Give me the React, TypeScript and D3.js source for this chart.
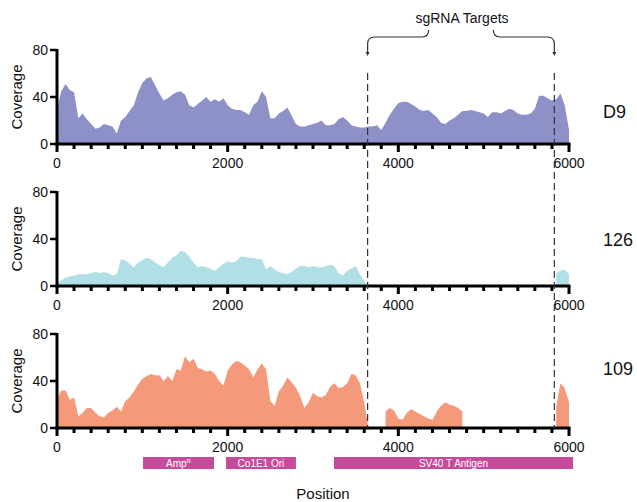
import React from "react";
import * as d3 from "d3";

// coverage sampled every 50 bp, 0..6000 (null = no reads)
const positions = d3.range(0, 6001, 50);

const coverageD9 = [
  30, 45, 51, 46, 44, 22, 26, 21, 17, 13, 14, 17, 16, 15, 9, 20, 23, 28, 33, 44,
  52, 56, 57, 50, 43, 37, 39, 42, 44, 45, 42, 33, 31, 34, 37, 40, 36, 38, 36, 39,
  33, 30, 29, 29, 27, 25, 33, 36, 45, 40, 22, 22, 26, 28, 31, 24, 17, 15, 15, 16,
  17, 18, 20, 16, 16, 17, 21, 23, 20, 16, 15, 14, 14, 15, 15, 16, 12, 18, 25, 30,
  35, 36, 36, 34, 32, 29, 28, 29, 26, 23, 18, 17, 20, 22, 25, 28, 28, 29, 28, 27,
  26, 23, 27, 27, 26, 28, 30, 29, 26, 25, 25, 26, 30, 41, 41, 39, 37, 38, 43, 33,
  12,
];

const coverage126 = [
  2, 5, 7, 8, 9, 10, 10, 10, 11, 12, 11, 12, 11, 9, 10, 23, 22, 19, 16, 20,
  22, 24, 23, 20, 18, 16, 20, 24, 26, 30, 29, 25, 20, 16, 17, 16, 15, 13, 16, 19,
  21, 20, 21, 25, 25, 24, 24, 23, 23, 14, 17, 14, 12, 11, 10, 12, 15, 17, 17, 16,
  17, 16, 16, 17, 18, 17, 11, 9, 13, 15, 17, 10, 4, 0, null, null, null, null, null, null,
  null, null, null, null, null, null, null, null, null, null, null, null, null, null, null, null, null, null, null, null,
  null, null, null, null, null, null, null, null, null, null, null, null, null, null, null, null, null, 11, 13, 14,
  10,
];

const coverage109 = [
  25, 32, 32, 24, 26, 10, 13, 17, 17, 13, 10, 9, 13, 15, 18, 14, 23, 26, 31, 37,
  42, 44, 46, 45, 45, 40, 44, 40, 50, 49, 61, 56, 59, 51, 50, 48, 49, 46, 40, 36,
  49, 54, 57, 56, 53, 50, 43, 50, 55, 50, 23, 19, 31, 36, 43, 39, 34, 27, 17, 22,
  30, 27, 26, 28, 35, 38, 34, 35, 38, 46, 45, 38, 22, 0, null, null, null, 14, 17, 15,
  8, 7, 13, 16, 14, 12, 10, 8, 7, 14, 19, 22, 20, 19, 17, 14, null, null, null, null,
  null, null, null, null, null, null, null, null, null, null, null, null, null, null, null, null, null, 18, 38, 34,
  22,
];

const sampleNames = ["D9", "126", "109"];
const sampleColors = ["#8e90c8", "#b1dfe6", "#f5997b"];
const sampleSeries = [coverageD9, coverage126, coverage109];

const yTicks = [0, 40, 80];
const xMajorTicks = [0, 2000, 4000, 6000];
const xMinorTicks = d3.range(0, 6001, 200);

const sgRNATargets = [3640, 5828];

const featureNames = ["Amp", "Co1E1 Ori", "SV40 T Antigen"];
const featureStarts = [1008, 1980, 3246];
const featureEnds = [1840, 2800, 6047];

const FONT = "Arial, 'Liberation Sans', Helvetica, sans-serif";

// layout
const panelBase = [144, 286, 428];
const panelH = 94;
const nameY = [118, 246, 375];

export default function App() {
  const x = d3.scaleLinear().domain([0, 6000]).range([57, 569]);

  const panels = sampleSeries.map((series, i) => {
    const y0 = panelBase[i];
    const y = d3.scaleLinear().domain([0, 80]).range([y0, y0 - panelH]);
    const pts = positions.map((p, k) => ({ p, v: series[k] }));
    const area = d3
      .area<{ p: number; v: number | null }>()
      .defined((d) => d.v != null)
      .x((d) => x(d.p))
      .y0(y(0))
      .y1((d) => y(d.v as number));
    return (
      <g key={sampleNames[i]}>
        <path d={area(pts) || ""} fill={sampleColors[i]} />
        {/* y axis */}
        <line x1={x(0)} x2={x(0)} y1={y(80) - 1} y2={y(0) + 1.5} stroke="#000" strokeWidth={3} />
        {yTicks.map((t) => (
          <g key={t}>
            <line x1={x(0) - 7} x2={x(0)} y1={y(t)} y2={y(t)} stroke="#000" strokeWidth={2.5} />
            <text x={x(0) - 9} y={y(t)} dy="0.35em" textAnchor="end" fontSize={14} fontFamily={FONT} fill="#111">
              {t}
            </text>
          </g>
        ))}
        <text
          transform={`translate(22, ${y0 - panelH / 2}) rotate(-90)`}
          textAnchor="middle"
          fontSize={15}
          fontFamily={FONT}
          fill="#111"
        >
          Coverage
        </text>
        {/* x axis */}
        <line x1={x(0) - 1.5} x2={x(6000) + 1.5} y1={y(0)} y2={y(0)} stroke="#000" strokeWidth={3} />
        {xMinorTicks.map((t) => (
          <line
            key={t}
            x1={x(t)}
            x2={x(t)}
            y1={y(0)}
            y2={y(0) + (xMajorTicks.includes(t) ? 8 : 5)}
            stroke="#000"
            strokeWidth={3}
          />
        ))}
        {xMajorTicks.map((t) => (
          <text key={t} x={x(t)} y={y0 + 24} textAnchor="middle" fontSize={14} fontFamily={FONT} fill="#111">
            {t}
          </text>
        ))}
        <text x={603} y={nameY[i]} fontSize={18} fontFamily={FONT} fill="#111">
          {sampleNames[i]}
        </text>
      </g>
    );
  });

  const lx = x(sgRNATargets[0]);
  const rx = x(sgRNATargets[1]);

  return (
    <svg width={637} height={502} style={{ position: "absolute", left: 0, top: 0, background: "#fff" }}>
      {panels}
      {/* sgRNA target markers */}
      {sgRNATargets.map((t) => (
        <line key={t} x1={x(t)} x2={x(t)} y1={73} y2={428} stroke="#333" strokeWidth={1.2} strokeDasharray="7,4" />
      ))}
      <path
        d={`M${lx},53 L${lx},44 Q${lx},37 ${lx + 7},37 L${lx + 54},37 Q${lx + 61},37 ${lx + 61},30`}
        fill="none"
        stroke="#333"
        strokeWidth={1.2}
      />
      <path
        d={`M${rx},53 L${rx},44 Q${rx},37 ${rx - 7},37 L${rx - 54},37 Q${rx - 61},37 ${rx - 61},30`}
        fill="none"
        stroke="#333"
        strokeWidth={1.2}
      />
      {[lx, rx].map((px) => (
        <path key={px} d={`M${px - 2},52 L${px + 2},52 L${px},56 Z`} fill="#333" />
      ))}
      <text x={462} y={23} textAnchor="middle" fontSize={14} fontFamily={FONT} fill="#111">
        sgRNA Targets
      </text>
      {/* features */}
      {featureNames.map((name, i) => (
        <g key={name}>
          <rect
            x={x(featureStarts[i])}
            y={457}
            width={x(featureEnds[i]) - x(featureStarts[i])}
            height={12}
            fill="#c64b9c"
          />
          <text
            x={(x(featureStarts[i]) + x(featureEnds[i])) / 2}
            y={467}
            textAnchor="middle"
            fontSize={10}
            fontFamily={FONT}
            fill="#fff"
          >
            {name}
            {name === "Amp" && (
              <tspan fontSize={6} dy={-4}>
                R
              </tspan>
            )}
          </text>
        </g>
      ))}
      <text x={323} y={499} textAnchor="middle" fontSize={15} fontFamily={FONT} fill="#111">
        Position
      </text>
    </svg>
  );
}
